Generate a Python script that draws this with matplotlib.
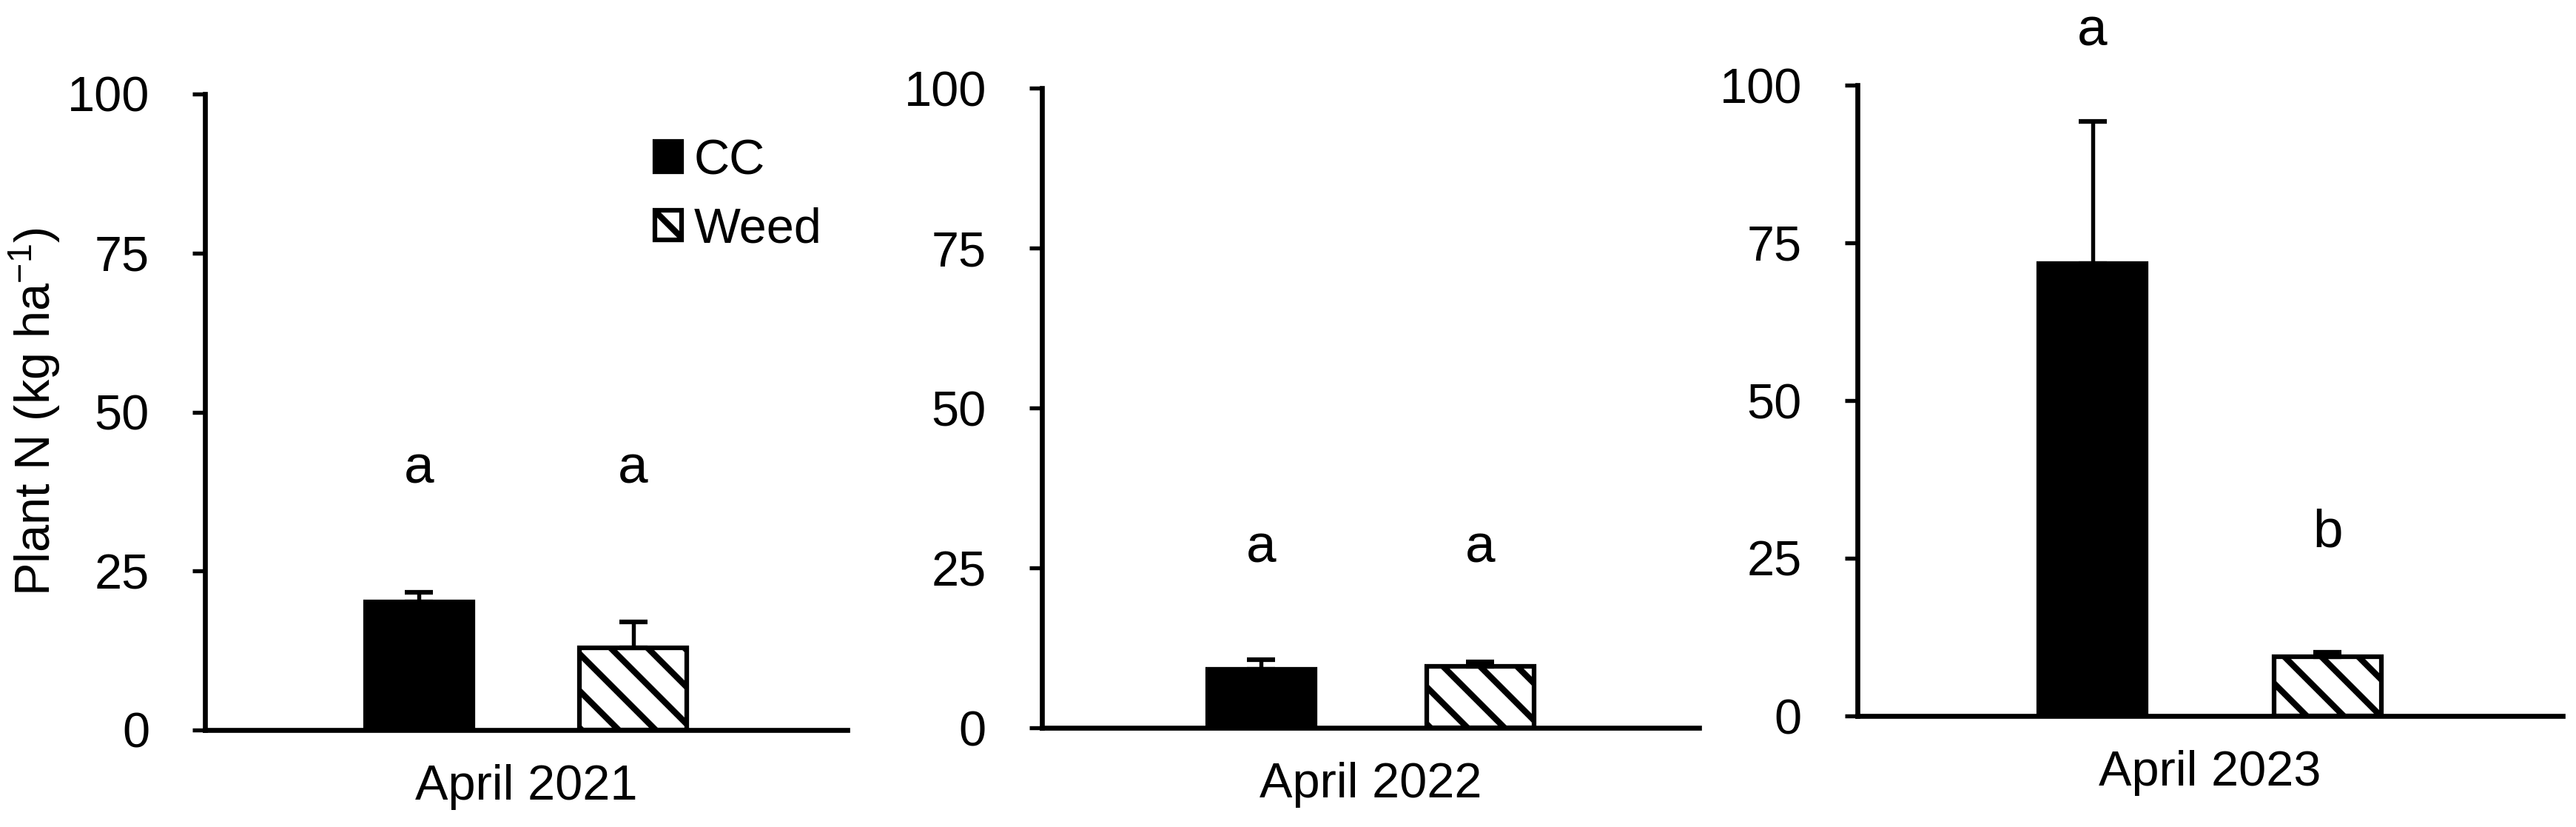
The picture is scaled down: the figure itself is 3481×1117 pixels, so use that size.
"""Plant N in cover crop and weed biomass, three April samplings."""

import matplotlib
matplotlib.use("Agg")
import matplotlib.pyplot as plt
from matplotlib.patches import Patch

plt.rcParams["font.family"] = ["Liberation Sans", "DejaVu Sans"]
plt.rcParams["mathtext.fontset"] = "custom"
plt.rcParams["mathtext.rm"] = "Liberation Sans"
plt.rcParams["mathtext.it"] = "Liberation Sans:italic"
plt.rcParams["hatch.linewidth"] = 2.0

# data
panels = ["April 2021", "April 2022", "April 2023"]
treatments = ["CC", "Weed"]
cc_mean = [20.1, 9.1, 71.7]
cc_se = [1.5, 1.6, 22.5]
weed_mean = [12.9, 9.6, 9.4]
weed_se = [4.1, 0.7, 0.7]
cc_letters = ["a", "a", "a"]
weed_letters = ["a", "a", "b"]
letter_y = [41, 28, None]  # None -> per-bar positions below
letters_2023 = [108.4, 29.0]
yticks = [0, 25, 50, 75, 100]

W, H, DPI = 3481, 1117, 300
# axes boxes in pixels: left, right, bottom, top
boxes = [(277, 1145, 986, 127), (1408, 2296, 983, 119), (2510, 3463, 967, 115)]
bar_px = 145

fig = plt.figure(figsize=(W / DPI, H / DPI), dpi=DPI)

for i, (l, r, b, t) in enumerate(boxes):
    ax = fig.add_axes([l / W, 1 - b / H, (r - l) / W, (b - t) / H])
    width = bar_px * 3 / (r - l)

    ax.bar(1, cc_mean[i], width=width, color="black", edgecolor="black", linewidth=1.5)
    ax.bar(2, weed_mean[i], width=width, color="white", edgecolor="black",
           linewidth=1.5, hatch="\\\\")
    ax.errorbar([1, 2], [cc_mean[i], weed_mean[i]],
                yerr=[[0, 0], [cc_se[i], weed_se[i]]],
                fmt="none", ecolor="black", elinewidth=1.3, capsize=4.6, capthick=1.5)

    if letter_y[i] is not None:
        ys = [letter_y[i], letter_y[i]]
    else:
        ys = letters_2023
    ax.text(1, ys[0], cc_letters[i], ha="center", va="center", fontsize=17.5, clip_on=False)
    ax.text(2, ys[1], weed_letters[i], ha="center", va="center", fontsize=17.5, clip_on=False)

    ax.set_xlim(0, 3)
    ax.set_ylim(0, 100)
    ax.set_yticks(yticks)
    ax.set_xticks([1.5])
    ax.set_xticklabels([panels[i]])
    ax.tick_params(axis="x", length=0, pad=11, labelsize=16)
    ax.tick_params(axis="y", direction="out", length=4, width=1.3, pad=14, labelsize=16)
    for side in ["top", "right"]:
        ax.spines[side].set_visible(False)
    for side in ["left", "bottom"]:
        ax.spines[side].set_linewidth(1.6)

    if i == 0:
        ax.set_ylabel(r"Plant N (kg ha$^{-1}$)", fontsize=16)
        ax.yaxis.set_label_coords(-0.222, 0.5)
        handles = [
            Patch(facecolor="black", edgecolor="black", linewidth=1.5),
            Patch(facecolor="white", edgecolor="black", linewidth=1.5, hatch="\\\\"),
        ]
        ax.legend(handles, treatments, loc="upper left", bbox_to_anchor=(0.70, 0.93),
                  frameon=False, fontsize=16, handlelength=0.55, handleheight=0.55,
                  handletextpad=0.25, labelspacing=0.46, borderpad=0, borderaxespad=0)

fig.savefig("out.png", dpi=DPI)
